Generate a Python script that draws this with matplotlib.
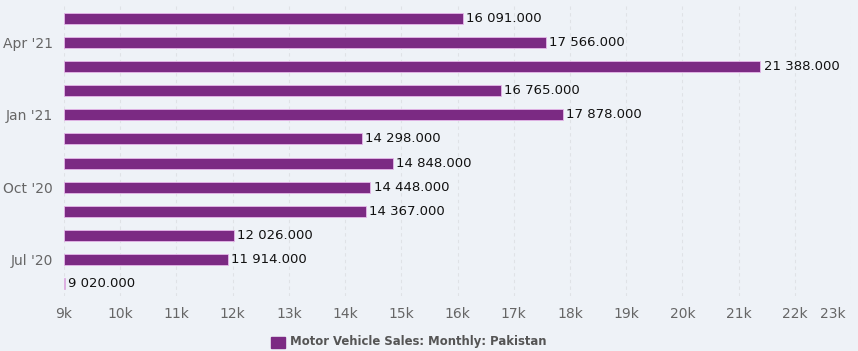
import matplotlib
matplotlib.use("Agg")
import matplotlib.pyplot as plt
from matplotlib.patches import Rectangle
import matplotlib.transforms as mtransforms

months = ["Jun '20", "Jul '20", "Aug '20", "Sep '20", "Oct '20", "Nov '20",
          "Dec '20", "Jan '21", "Feb '21", "Mar '21", "Apr '21", "May '21"]
values = [9020, 11914, 12026, 14367, 14448, 14848, 14298, 17878, 16765, 21388, 17566, 16091]
xticks = list(range(9000, 24000, 1000))
xticklabels = [f"{t // 1000}k" for t in xticks]
series_name = "Motor Vehicle Sales: Monthly: Pakistan"

bg = "#eef2f7"
bar_color = "#7b2a83"

fig = plt.figure(figsize=(8.58, 3.51), dpi=100, facecolor=bg)
ax = fig.add_axes([64 / 858, (351 - 296) / 351, (851 - 64) / 858, 290 / 351], facecolor=bg)

ypos = list(range(len(months)))
ax.barh(ypos, [v - 9000 for v in values], left=9000, height=0.46,
        color=bar_color, edgecolor="#e6b8ea", linewidth=0.6, zorder=3)
for y, v in zip(ypos, values):
    s = f"{v:,}".replace(",", " ") + ".000"
    ax.text(v + 60, y, s, va="center", ha="left", fontsize=9.5, color="#111111", zorder=4)

ax.set_xlim(9000, 23000)
ax.set_ylim(-0.5, len(months) - 0.5)
ax.set_xticks(xticks)
ax.set_xticklabels(xticklabels[:-1] + [""])
ax.set_yticks(ypos)
ax.set_yticklabels([m if i % 3 == 1 else "" for i, m in enumerate(months)])
ax.tick_params(axis="x", length=0, labelsize=10, labelcolor="#666666", pad=8)
ax.tick_params(axis="y", length=0, labelsize=10, labelcolor="#666666", pad=8)
# last tick label kept inside the chart, right-aligned like the reference
tr = mtransforms.offset_copy(ax.get_xaxis_transform(), fig=fig, x=-4, y=-8, units="points")
ax.text(xticks[-1], 0, xticklabels[-1], transform=tr, ha="right", va="top",
        fontsize=10, color="#666666")
ax.xaxis.grid(True, color="#dfe2e6", linestyle=(0, (3, 3)), linewidth=0.8, zorder=0)
ax.yaxis.grid(False)
for sp in ax.spines.values():
    sp.set_visible(False)

fig.patches.append(Rectangle((271 / 858, (351 - 348) / 351), 14 / 858, 11 / 351,
                             transform=fig.transFigure, color=bar_color))
fig.text(290 / 858, (351 - 342) / 351, series_name, fontsize=8.4, fontweight="bold",
         color="#555555", va="center", ha="left")

fig.savefig("out.png", dpi=100, facecolor=bg)
